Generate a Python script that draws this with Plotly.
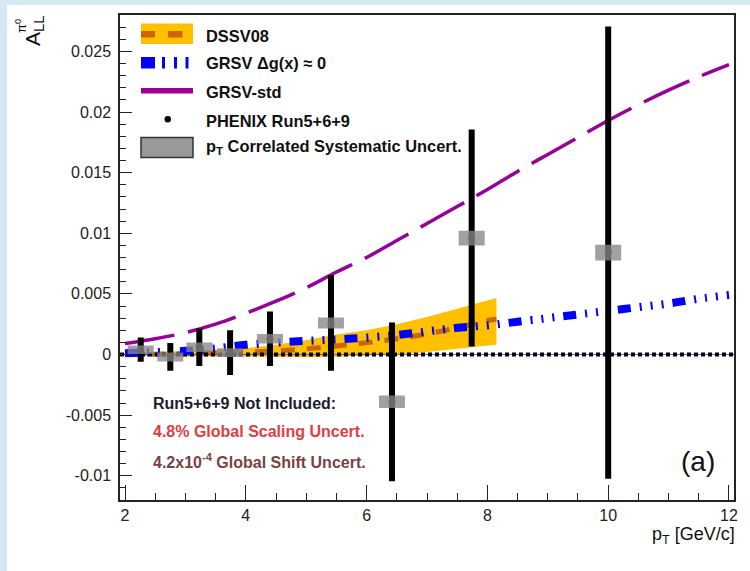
import plotly.graph_objects as go

# ---------------- data ----------------
pt = [2.26, 2.75, 3.23, 3.74, 4.40, 5.41, 6.42, 7.74, 10.0]
all_val = [0.0004, -0.0002, 0.0006, 0.00015, 0.0013, 0.0026, -0.0039, 0.0096, 0.0084]
stat_err = [0.00075, 0.0009, 0.0013, 0.0016, 0.002, 0.0037, 0.0063, 0.0087, 0.0184]
syst_err = [0.00035, 0.00037, 0.0004, 0.00036, 0.0004, 0.00045, 0.00052, 0.0006, 0.00065]

curve_pt = [2.0, 2.5, 3.0, 3.5, 4.0, 4.5, 5.0, 5.5, 6.0, 6.5, 7.0, 7.5, 8.0, 8.5, 9.0, 9.5,
            10.0, 10.5, 11.0, 11.5, 12.0]
grsv_std = [0.0009, 0.0013, 0.0018, 0.0025, 0.0034, 0.0044, 0.0055, 0.0068, 0.0080, 0.0094,
            0.0108, 0.0122, 0.0136, 0.0151, 0.0165, 0.0179, 0.0193, 0.0206, 0.0218, 0.0229, 0.0239]
grsv_zero = [0.0001, 0.0002, 0.0003, 0.0005, 0.0008, 0.00098, 0.00112, 0.00124, 0.0014, 0.0016,
             0.0019, 0.0022, 0.0024, 0.0027, 0.003, 0.0033, 0.0036, 0.0039, 0.0042, 0.0046, 0.0049]

dssv_pt = [2.0, 2.5, 3.0, 3.5, 4.0, 4.5, 5.0, 5.5, 6.0, 6.5, 7.0, 7.5, 8.0, 8.15]
dssv_center = [0.0, 0.00003, 0.00007, 0.00012, 0.0002, 0.0003, 0.00047, 0.0007, 0.00098, 0.0013,
               0.0017, 0.0022, 0.0028, 0.0029]
dssv_upper = [0.00012, 0.0002, 0.0003, 0.0004, 0.00052, 0.0008, 0.0012, 0.00165, 0.002, 0.0025,
              0.0031, 0.0038, 0.0045, 0.00465]
dssv_lower = [-0.0001, -0.00012, -0.00015, -0.00018, -0.0002, -0.0002, -0.0002, -0.00018, -0.00012,
              0.0, 0.0002, 0.00048, 0.00075, 0.0008]

x_range = [1.917, 12.083]
y_range = [-0.012, 0.028]
x_ticks = [2, 4, 6, 8, 10, 12]
y_ticks = [-0.01, -0.005, 0, 0.005, 0.01, 0.015, 0.02, 0.025]
y_ticktext = ["-0.01", "-0.005", "0", "0.005", "0.01", "0.015", "0.02", "0.025"]

# ---------------- layout helpers (pixel -> paper) ----------------
L, R, T, B = 120, 734, 15, 500
W, H = R - L, B - T
def px(x):
    return (x - L) / W
def py(y):
    return (B - y) / H

FONT = "Liberation Sans, Arial, sans-serif"
BAND = "#ffc000"
ORANGE = "#cc6600"
BLUE = "#0000ff"
PURPLE = "#990099"

fig = go.Figure()

# DSSV08 band
fig.add_trace(go.Scatter(
    x=dssv_pt + dssv_pt[::-1], y=dssv_upper + dssv_lower[::-1],
    fill="toself", fillcolor=BAND, line=dict(width=0), mode="lines",
    hoverinfo="skip", showlegend=False))
fig.add_trace(go.Scatter(
    x=dssv_pt, y=dssv_center, mode="lines",
    line=dict(color=ORANGE, width=5, dash="14px,12px", shape="spline"),
    showlegend=False))

# zero reference lines
fig.add_trace(go.Scatter(x=x_range, y=[0, 0], mode="lines",
                         line=dict(color="#3a3aff", width=0.8), showlegend=False, hoverinfo="skip"))
fig.add_trace(go.Scatter(x=x_range, y=[0, 0], mode="lines",
                         line=dict(color="black", width=4, dash="4px,3px"),
                         showlegend=False, hoverinfo="skip"))

# GRSV dg=0
fig.add_trace(go.Scatter(
    x=curve_pt, y=grsv_zero, mode="lines",
    line=dict(color=BLUE, width=8, dash="13px,9px,2px,9px,2px,9px,2px,9px", shape="spline"),
    showlegend=False))
# GRSV-std
fig.add_trace(go.Scatter(
    x=curve_pt, y=grsv_std, mode="lines",
    line=dict(color=PURPLE, width=3.5, dash="50px,14px", shape="spline"),
    showlegend=False))

# PHENIX points
fig.add_trace(go.Scatter(
    x=pt, y=all_val, mode="markers",
    marker=dict(color="black", size=7),
    error_y=dict(type="data", array=stat_err, thickness=6, width=3, color="black"),
    showlegend=False))

# pT correlated systematic boxes
hw = 0.215
bx, by = [], []
for xi, yi, si in zip(pt, all_val, syst_err):
    bx += [xi - hw, xi + hw, xi + hw, xi - hw, xi - hw, None]
    by += [yi - si, yi - si, yi + si, yi + si, yi - si, None]
fig.add_trace(go.Scatter(x=bx, y=by, fill="toself", fillcolor="rgba(135,135,135,0.78)",
                         line=dict(width=0), mode="lines", showlegend=False, hoverinfo="skip"))

shapes = []
# page background strips
shapes.append(dict(type="rect", xref="paper", yref="paper", x0=px(0), x1=px(7), y0=py(571), y1=py(0),
                   fillcolor="#d5e8f4", line=dict(width=0), layer="below"))
shapes.append(dict(type="rect", xref="paper", yref="paper", x0=px(0), x1=px(750), y0=py(5), y1=py(0),
                   fillcolor="#d5e8f4", line=dict(width=0), layer="below"))

def rect(x0, x1, y0, y1, color, line=None):
    d = dict(type="rect", xref="paper", yref="paper", x0=px(x0), x1=px(x1), y0=py(y1), y1=py(y0),
             fillcolor=color, line=line or dict(width=0), layer="above")
    shapes.append(d)

# legend symbols
rect(141, 193, 23.5, 44, BAND)
rect(141, 155, 31, 37.5, ORANGE)
rect(168, 182.5, 31, 37.5, ORANGE)
rect(141, 155, 57, 68.5, BLUE)
for xt in (162, 174, 185.5):
    rect(xt, xt + 3, 57, 68.5, BLUE)
rect(141, 193, 88, 93.5, PURPLE)
shapes.append(dict(type="circle", xref="paper", yref="paper", x0=px(164.5), x1=px(171),
                   y0=py(122.5), y1=py(116), fillcolor="black", line=dict(width=0), layer="above"))
rect(141, 193, 137.5, 157.5, "#999999", dict(color="#333333", width=1.5))

annotations = []
def text(s, x, y, size=16, color="#111111", xanchor="left", angle=0):
    annotations.append(dict(text=s, x=px(x), y=py(y), xref="paper", yref="paper",
                            xanchor=xanchor, yanchor="middle", showarrow=False, textangle=angle,
                            font=dict(family=FONT, size=size, color=color)))

text("<b>DSSV08</b>", 204, 36.5, size=16.4)
text("<b>GRSV Δg(x) ≈ 0</b>", 204, 63.5, size=16.4)
text("<b>GRSV-std</b>", 204, 91.5, size=16.4)
text("<b>PHENIX Run5+6+9</b>", 204, 121, size=16.4)
text("<b>p<sub>T</sub> Correlated Systematic Uncert.</b>", 204, 147, size=16.4)

text("<b>Run5+6+9 Not Included:</b>", 151, 403.5, color="#1c1c30")
text("<b>4.8% Global Scaling Uncert.</b>", 151, 431, color="#e23c44")
text("<b>4.2x10<sup>-4</sup> Global Shift Uncert.</b>", 151, 461, color="#7a4242")
text("(a)", 698, 461, size=28, color="#111111", xanchor="center")

# axis titles
text("A<sub>LL</sub>", 34, 31, size=21, color="#111111", xanchor="center", angle=-90)
text("π<sup>0</sup>", 21, 26, size=13, color="#111111", xanchor="center", angle=-90)
text("p<sub>T</sub> [GeV/c]", 737, 535, size=18, color="#111111", xanchor="right")

fig.update_layout(
    width=750, height=571,
    margin=dict(l=L, r=750 - R, t=T, b=571 - B, pad=0),
    paper_bgcolor="white", plot_bgcolor="white",
    shapes=shapes, annotations=annotations,
    showlegend=False,
    xaxis=dict(range=x_range, tickvals=x_ticks, ticktext=[str(v) for v in x_ticks],
               ticks="inside", ticklen=15, tickwidth=1.3, tickcolor="#222",
               minor=dict(ticks="inside", ticklen=7.5, dtick=0.5, tick0=2, tickcolor="#222", tickwidth=1.3),
               showline=True, linecolor="#222", linewidth=1.5, mirror=True,
               showgrid=False, zeroline=False,
               tickfont=dict(family=FONT, size=16, color="#222"), ticklabelstandoff=0),
    yaxis=dict(range=y_range, tickvals=y_ticks, ticktext=y_ticktext,
               ticks="inside", ticklen=12, tickwidth=1.3, tickcolor="#222",
               minor=dict(ticks="inside", ticklen=6, dtick=0.001, tick0=0, tickcolor="#222", tickwidth=1.3),
               showline=True, linecolor="#222", linewidth=1.5, mirror=True,
               showgrid=False, zeroline=False,
               tickfont=dict(family=FONT, size=16, color="#222"), ticklabelstandoff=4),
)

fig.write_html("out.html")
